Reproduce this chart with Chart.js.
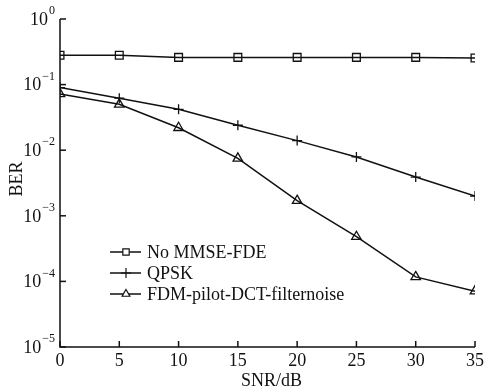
<!DOCTYPE html>
<html>
<head>
<meta charset="utf-8">
<script src="https://cdn.jsdelivr.net/npm/chart.js@4/dist/chart.umd.min.js"></script>
<style>
  html, body { margin: 0; padding: 0; background: #fff; }
  #wrap { width: 487px; height: 390px; }
</style>
</head>
<body>
<div id="wrap"><canvas id="chart" width="487" height="390"></canvas></div>
<script>
// data
const snr = [0, 5, 10, 15, 20, 25, 30, 35];
const noMmse = [0.28, 0.28, 0.26, 0.26, 0.26, 0.26, 0.26, 0.255];
const qpsk = [0.09, 0.062, 0.042, 0.024, 0.014, 0.0079, 0.0039, 0.002];
const fdmPilot = [0.072, 0.05, 0.022, 0.0075, 0.0017, 0.00048, 0.000117, 0.000071];
const seriesNames = ['No MMSE-FDE', 'QPSK', 'FDM-pilot-DCT-filternoise'];
const xTicks = [0, 5, 10, 15, 20, 25, 30, 35];
const yExponents = [0, -1, -2, -3, -4, -5];

const FONT = '"Liberation Serif", "Times New Roman", serif';
const INK = '#111';

function series(label, vals, style) {
    return {
        label: label,
        data: snr.map((x, i) => ({ x: x, y: vals[i] })),
        borderColor: INK,
        backgroundColor: 'rgba(0,0,0,0)',
        borderWidth: 1.5,
        pointStyle: style,
        pointRadius: style === 'cross' ? 5 : 5.5,
        pointBorderColor: INK,
        pointBorderWidth: 1.3,
        pointBackgroundColor: 'rgba(0,0,0,0)',
        tension: 0
    };
}

// axes, ticks, labels and legend drawn by hand (superscripts + inward ticks)
const decorPlugin = {
    id: 'decor',
    afterDraw(chart) {
        const ctx = chart.ctx;
        const xs = chart.scales.x, ys = chart.scales.y;
        const a = chart.chartArea;
        ctx.save();
        ctx.strokeStyle = INK;
        ctx.fillStyle = INK;
        ctx.lineWidth = 1.5;
        ctx.beginPath();
        ctx.moveTo(a.left, a.top);
        ctx.lineTo(a.left, a.bottom);
        ctx.lineTo(a.right, a.bottom);
        ctx.stroke();

        // x ticks
        ctx.font = '18px ' + FONT;
        ctx.textAlign = 'center';
        ctx.textBaseline = 'middle';
        xTicks.forEach(v => {
            const px = xs.getPixelForValue(v);
            ctx.beginPath();
            ctx.moveTo(px, a.bottom);
            ctx.lineTo(px, a.bottom - 6);
            ctx.stroke();
            ctx.fillText(String(v), px, a.bottom + 14);
        });

        // y ticks
        yExponents.forEach(e => {
            const py = ys.getPixelForValue(Math.pow(10, e));
            ctx.beginPath();
            ctx.moveTo(a.left, py);
            ctx.lineTo(a.left + 6, py);
            ctx.stroke();
            const expTxt = e < 0 ? '\u2212' + (-e) : String(e);
            ctx.font = '12px ' + FONT;
            const we = ctx.measureText(expTxt).width;
            const right = a.left - 5;
            ctx.textAlign = 'left';
            ctx.textBaseline = 'middle';
            ctx.fillText(expTxt, right - we, py - 8);
            ctx.font = '18px ' + FONT;
            ctx.textAlign = 'right';
            ctx.fillText('10', right - we - 1, py + 1);
        });

        // axis titles
        ctx.font = '18px ' + FONT;
        ctx.textAlign = 'center';
        ctx.textBaseline = 'middle';
        ctx.fillText('SNR/dB', (a.left + a.right) / 2 + 4, 381);
        ctx.save();
        ctx.translate(17, 179);
        ctx.rotate(-Math.PI / 2);
        ctx.fillText('BER', 0, 0);
        ctx.restore();

        // legend
        const rows = [252, 273, 294];
        chart.data.datasets.forEach((ds, i) => {
            const y = rows[i];
            ctx.lineWidth = 1.5;
            ctx.beginPath();
            ctx.moveTo(110, y);
            ctx.lineTo(141, y);
            ctx.stroke();
            ctx.lineWidth = 1.2;
            ctx.fillStyle = '#fff';
            Chart.helpers.drawPoint(ctx, {
                pointStyle: ds.pointStyle,
                radius: ds.pointStyle === 'cross' ? 5 : 4.5,
                rotation: 0,
                borderWidth: 1.2
            }, 126, y);
            ctx.fillStyle = INK;
            ctx.font = '18px ' + FONT;
            ctx.textAlign = 'left';
            ctx.textBaseline = 'middle';
            ctx.fillText(ds.label, 147, y + 1);
        });
        ctx.restore();
    }
};

const ctx = document.getElementById('chart').getContext('2d');
const myChart = new Chart(ctx, {
    type: 'line',
    data: {
        datasets: [
            series(seriesNames[0], noMmse, 'rect'),
            series(seriesNames[1], qpsk, 'cross'),
            series(seriesNames[2], fdmPilot, 'triangle')
        ]
    },
    options: {
        responsive: false,
        animation: false,
        layout: { padding: { left: 60, top: 19, right: 12, bottom: 43 } },
        plugins: { legend: { display: false }, tooltip: { enabled: false } },
        scales: {
            x: { type: 'linear', min: 0, max: 35, display: false },
            y: { type: 'logarithmic', min: 1e-5, max: 1, display: false }
        }
    },
    plugins: [decorPlugin]
});
</script>
</body>
</html>
